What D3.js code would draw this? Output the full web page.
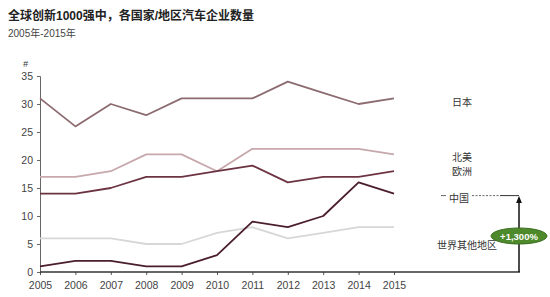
<!DOCTYPE html>
<html><head><meta charset="utf-8">
<script src="https://cdn.jsdelivr.net/npm/d3@7"></script>
<style>body{margin:0;background:#fff;}svg{display:block;font-family:"Liberation Sans",Arial,"Noto Sans CJK SC",sans-serif;}</style>
</head><body>
<svg id="c" width="550" height="297"></svg>
<script>
const years = [2005,2006,2007,2008,2009,2010,2011,2012,2013,2014,2015];
const yTicks = [0,5,10,15,20,25,30,35];
const japan = [31,26,30,28,31,31,31,34,32,30,31];
const northAmerica = [17,17,18,21,21,18,22,22,22,22,21];
const europe = [14,14,15,17,17,18,19,16,17,17,18];
const china = [1,2,2,1,1,3,9,8,10,16,14];
const restOfWorld = [6,6,6,5,5,7,8,6,7,8,8];
const seriesNames = ["日本","北美","欧洲","中国","世界其他地区"];
const growthLabel = "+1,300%";

const svg = d3.select("#c");
const x = d3.scaleLinear().domain([2005,2015]).range([40,394]);
const y = d3.scaleLinear().domain([0,35]).range([272,76]);

svg.append("text").attr("x",8).attr("y",20).attr("font-size",12).attr("font-weight","bold")
  .attr("fill","#222").text("全球创新1000强中，各国家/地区汽车企业数量");
svg.append("text").attr("x",8).attr("y",37).attr("font-size",10).attr("fill","#444").text("2005年-2015年");
svg.append("text").attr("x",23).attr("y",67).attr("font-size",9).attr("font-style","italic").attr("fill","#333").text("#");

// y axis
const ya = svg.append("g").attr("transform","translate(40,0)")
  .call(d3.axisLeft(y).tickValues(yTicks).tickSize(3).tickPadding(4));
ya.select(".domain").attr("stroke","#666");
ya.selectAll(".tick line").attr("stroke","#666");
ya.selectAll("text").attr("font-size",10.5).attr("fill","#444");

// x axis
const xa = svg.append("g").attr("transform","translate(0,272)")
  .call(d3.axisBottom(x).tickValues(years).tickFormat(d3.format("d")).tickSize(3).tickPadding(7));
xa.select(".domain").remove();
xa.selectAll(".tick line").attr("stroke","#555");
xa.selectAll("text").attr("font-size",10.5).attr("fill","#444");
svg.append("line").attr("x1",40).attr("x2",520).attr("y1",272).attr("y2",272)
  .attr("stroke","#333").attr("stroke-width",1.6);

const line = d3.line().x((d,i)=>x(years[i])).y(d=>y(d));
const series = [
  {v:restOfWorld,c:"#d9d6d6",w:1.8},
  {v:northAmerica,c:"#c7a8ac",w:1.8},
  {v:japan,c:"#8c6c70",w:1.8},
  {v:europe,c:"#6c3442",w:1.8},
  {v:china,c:"#4a1e2a",w:1.8}
];
svg.append("g").selectAll("path").data(series).join("path")
  .attr("d",d=>line(d.v)).attr("fill","none").attr("stroke",d=>d.c).attr("stroke-width",d=>d.w)
  .attr("stroke-linejoin","round");

// labels
const labels = [
  {t:seriesNames[0],x:462,y:106},
  {t:seriesNames[1],x:462,y:161},
  {t:seriesNames[2],x:462,y:175},
  {t:seriesNames[3],x:459,y:202},
  {t:seriesNames[4],x:467,y:249}
];
svg.append("g").selectAll("text").data(labels).join("text")
  .attr("x",d=>d.x).attr("y",d=>d.y).attr("text-anchor","middle").attr("font-size",10)
  .attr("fill","#333").text(d=>d.t);

// China marker lines
const cy = y(china[china.length-1]) + 5;
svg.append("line").attr("x1",441).attr("x2",446).attr("y1",cy-3).attr("y2",cy-3).attr("stroke","#666");
svg.append("line").attr("x1",472).attr("x2",500).attr("y1",cy-3).attr("y2",cy-3).attr("stroke","#666").attr("stroke-dasharray","2,1.5");
svg.append("line").attr("x1",500).attr("x2",519).attr("y1",cy-3).attr("y2",cy-3).attr("stroke","#333");

// arrow
svg.append("defs").append("marker").attr("id","ah").attr("viewBox","0 0 10 10").attr("refX",5).attr("refY",5)
  .attr("markerWidth",5).attr("markerHeight",6).attr("orient","auto")
  .append("path").attr("d","M0,1 L10,5 L0,9 Z").attr("fill","#111");
svg.append("line").attr("x1",519).attr("x2",519).attr("y1",272).attr("y2",cy+1)
  .attr("stroke","#111").attr("stroke-width",1.5).attr("marker-end","url(#ah)");
svg.append("ellipse").attr("cx",519).attr("cy",236).attr("rx",28).attr("ry",8)
  .attr("fill","#4e8a2c").attr("stroke","#3b6e1f");
svg.append("text").attr("x",519).attr("y",239.5).attr("text-anchor","middle").attr("font-size",9.5)
  .attr("font-weight","bold").attr("fill","#fff").text(growthLabel);
</script>
</body></html>
